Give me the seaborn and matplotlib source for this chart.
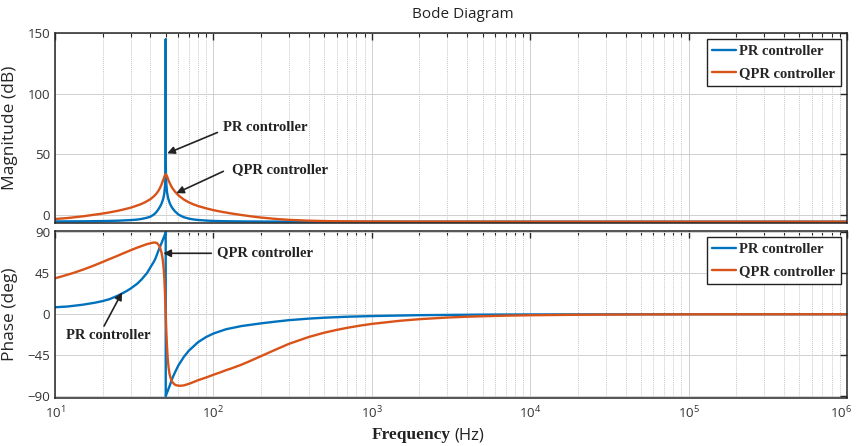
import matplotlib
matplotlib.use("Agg")
import matplotlib.pyplot as plt
import matplotlib.transforms as mtrans
import numpy as np
import pandas as pd
import seaborn as sns
from matplotlib.ticker import LogLocator, NullFormatter, FixedLocator

# ---------------- data ----------------
pr_mag_freq = [10, 15, 20, 25, 30, 33, 35, 38, 40, 42, 43, 44, 45, 46, 47, 48, 48.5, 49,
               49.5, 49.8, 49.95, 50.0, 50.05, 50.2, 50.5, 51, 51.5, 52, 53, 54, 55, 57,
               60, 63, 65, 70, 75, 80, 90, 100, 120, 150, 200, 300, 500, 1e3, 1e4, 1e5, 1e6]
pr_mag_db = [-5.3, -5.2, -5.0, -4.7, -4.2, -3.8, -3.3, -2.3, -1.4, 0.3, 1.5, 3.0, 4.8, 6.8,
             9.2, 12.5, 14.8, 18.0, 24.0, 32.0, 44.0, 145.0, 44.0, 32.0, 24.5, 18.5, 15.5,
             13.0, 9.8, 7.5, 5.8, 3.2, 0.5, -1.0, -1.8, -3.0, -3.7, -4.1, -4.6, -4.9,
             -5.15, -5.3, -5.4, -5.45, -5.5, -5.5, -5.5, -5.5, -5.5]

qpr_mag_freq = [10, 11, 12, 13, 15, 17, 20, 22, 25, 27, 30, 32, 35, 37, 40, 42, 43, 44, 45,
                46, 47, 48, 48.5, 49, 49.5, 50, 50.5, 51, 51.5, 52, 53, 54, 55, 57, 60, 65,
                70, 75, 80, 90, 100, 110, 125, 150, 175, 200, 250, 300, 400, 500, 700,
                1e3, 2e3, 1e4, 1e5, 1e6]
qpr_mag_db = [-3.3, -2.9, -2.5, -2.0, -1.1, -0.1, 1.2, 2.1, 3.5, 4.5, 6.0, 7.2, 9.0, 10.5,
              13.0, 15.3, 16.6, 18.2, 20.0, 22.3, 25.0, 28.2, 29.8, 31.5, 33.0, 33.6, 33.0,
              31.7, 30.3, 28.8, 26.3, 24.2, 22.3, 19.5, 16.3, 12.8, 10.4, 8.7, 7.4, 5.5,
              4.0, 2.9, 1.6, 0.0, -1.2, -2.1, -3.3, -4.0, -4.7, -5.0, -5.25, -5.35, -5.45,
              -5.5, -5.5, -5.5]

pr_ph_freq = [10, 12, 15, 18, 20, 22, 25, 28, 30, 33, 35, 38, 40, 42, 43, 44, 45, 46, 47,
              48, 49, 49.8, 49.99, 50.01, 50.2, 51, 52, 53, 55, 57, 60, 65, 70, 80, 90,
              100, 120, 150, 200, 250, 300, 400, 500, 700, 1e3, 2e3, 5e3, 1e4, 1e5, 1e6]
pr_ph_deg = [7.7, 8.5, 10.5, 12.8, 14.5, 16.5, 20.5, 25.0, 28.2, 33.5, 37.8, 45.0, 51.5,
             57.5, 61.0, 65.5, 70.0, 74.0, 78.0, 82.0, 86.0, 89.2, 90.0, -90.0, -89.2,
             -86.0, -82.2, -78.5, -70.5, -64.5, -56.5, -47.0, -40.0, -30.7, -25.0, -21.2,
             -16.5, -13.0, -10.0, -8.0, -6.5, -4.8, -3.8, -2.7, -2.0, -1.0, -0.4, -0.2,
             0.0, 0.0]

qpr_ph_freq = [10, 11, 12, 13, 15, 17, 20, 22, 25, 27, 30, 32, 35, 37, 38, 40, 41, 42, 43,
               44, 45, 46, 47, 47.5, 48, 48.5, 49, 49.5, 50, 50.5, 51, 51.5, 52, 52.5, 53,
               54, 55, 56, 57, 58, 60, 62, 65, 70, 75, 80, 90, 100, 110, 120, 130, 150,
               170, 200, 250, 300, 400, 500, 600, 700, 850, 1e3, 1.5e3, 2e3, 3e3, 4e3,
               5e3, 7e3, 1e4, 2e4, 5e4, 1e5, 1e6]
qpr_ph_deg = [39.5, 41.5, 43.5, 45.3, 49.0, 52.5, 57.5, 60.5, 64.5, 67.0, 70.3, 72.3, 74.8,
              76.3, 77.0, 78.0, 78.5, 78.8, 78.8, 78.2, 76.5, 73.5, 68.0, 64.0, 58.5, 50.5,
              40.0, 22.0, 0.0, -21.0, -37.0, -49.0, -57.0, -62.5, -66.5, -71.5, -74.3,
              -76.0, -77.2, -77.9, -78.5, -78.6, -78.2, -76.5, -74.5, -72.5, -69.5, -66.5,
              -64.0, -61.5, -59.5, -55.5, -51.5, -46.0, -38.5, -32.5, -25.0, -20.3, -17.2,
              -14.9, -12.4, -10.6, -7.2, -5.4, -3.6, -2.7, -2.2, -1.55, -1.1, -0.55, -0.22,
              -0.11, 0.0]

series_names = ["PR controller", "QPR controller"]
mag_yticks = [0, 50, 100, 150]
ph_yticks = [-90, -45, 0, 45, 90]
freq_ticks = [1e1, 1e2, 1e3, 1e4, 1e5, 1e6]

# ---------------- styling ----------------
sns.set_style("white")
plt.rcParams["font.family"] = ["Open Sans", "DejaVu Sans"]
BLUE = "#0072BD"
ORANGE = "#D95319"
SERIF_B = dict(family="Liberation Serif", weight="bold")

fig = plt.figure(figsize=(8.56, 4.46), dpi=100)
W, H = 856.0, 446.0
ax1 = fig.add_axes([55 / W, 1 - 223 / H, 792 / W, 190 / H])
ax2 = fig.add_axes([55 / W, 1 - 397.5 / H, 792 / W, 166.5 / H])

df_pm = pd.DataFrame({"f": pr_mag_freq, "v": pr_mag_db})
df_qm = pd.DataFrame({"f": qpr_mag_freq, "v": qpr_mag_db})
df_pp = pd.DataFrame({"f": pr_ph_freq, "v": pr_ph_deg})
df_qp = pd.DataFrame({"f": qpr_ph_freq, "v": qpr_ph_deg})

for ax, dp, dq in [(ax1, df_pm, df_qm), (ax2, df_pp, df_qp)]:
    sns.lineplot(data=dp, x="f", y="v", ax=ax, color=BLUE, lw=1.7, sort=False,
                 estimator=None, label=series_names[0])
    sns.lineplot(data=dq, x="f", y="v", ax=ax, color=ORANGE, lw=1.7, sort=False,
                 estimator=None, label=series_names[1])
    ax.set_xscale("log")
    ax.set_xlim(10, 1e6)
    ax.xaxis.set_major_locator(FixedLocator(freq_ticks))
    ax.xaxis.set_minor_locator(LogLocator(base=10, subs=np.arange(2, 10), numticks=100))
    ax.xaxis.set_minor_formatter(NullFormatter())
    ax.grid(which="major", color="#d0d0d0", lw=0.7, ls="-")
    ax.grid(which="minor", axis="x", color="#c8c8c8", lw=0.7, ls=(0, (1, 1)))
    ax.tick_params(which="both", direction="in", top=True, right=True, colors="#262626",
                   labelsize=9.5, labelcolor="#333333")
    ax.tick_params(which="major", length=5, width=1.0)
    ax.tick_params(which="minor", length=3, width=0.8)
    for s in ax.spines.values():
        s.set_color("#262626")
        s.set_linewidth(1.1)
    ax.set_xlabel("")
    ax.legend(loc="upper right", prop=dict(family="Liberation Serif", weight="bold", size=10.5),
              frameon=True, fancybox=False, edgecolor="#222222", framealpha=1,
              handlelength=1.6, handletextpad=0.25, borderaxespad=0.4, borderpad=0.4,
              labelspacing=0.6)
    ax.legend_.get_frame().set_linewidth(1.0)

ax1.set_ylim(-6.6, 150)
ax1.yaxis.set_major_locator(FixedLocator(mag_yticks))
ax1.tick_params(axis="x", labelbottom=False)
ax1.set_ylabel("Magnitude (dB)", fontsize=12.5, color="#262626")
ax1.yaxis.set_label_coords(-0.047, 0.5)

ax2.set_ylim(-91.5, 91.5)
ax2.yaxis.set_major_locator(FixedLocator(ph_yticks))
ax2.set_ylabel("Phase (deg)", fontsize=12.5, color="#262626")
ax2.yaxis.set_label_coords(-0.047, 0.5)
ax2.tick_params(axis="x", pad=5)

# annotations
arrow = dict(arrowstyle="-|>", color="#222222", lw=1.2, mutation_scale=11, shrinkA=0, shrinkB=0)
ax1.text(115.6, 72, "PR controller", ha="left", va="center", fontsize=10.5, **SERIF_B, color="#222222")
ax1.annotate("", xy=(51.1, 50.8), xytext=(106, 68), arrowprops=arrow)
ax1.text(132, 37.7, "QPR controller", ha="left", va="center", fontsize=10.5, **SERIF_B, color="#222222")
ax1.annotate("", xy=(58.3, 18), xytext=(115.6, 36), arrowprops=arrow)

ax2.text(106, 68, "QPR controller", ha="left", va="center", fontsize=10.5, **SERIF_B, color="#222222")
ax2.annotate("", xy=(48.3, 67), xytext=(97, 67), arrowprops=arrow)
ax2.text(11.7, -23, "PR controller", ha="left", va="center", fontsize=10.5, **SERIF_B, color="#222222")
ax2.annotate("", xy=(26.5, 24), xytext=(20.4, -13), arrowprops=arrow)

# title and x label
fig.text(463 / W, 1 - 14 / H, "Bode Diagram", ha="center", va="center", fontsize=11, color="#222222")
fig.text(451 / W, 1 - 435 / H, "Frequency", ha="right", va="center", fontsize=12.5,
         color="#222222", **SERIF_B)
fig.text(454 / W, 1 - 435 / H, "(Hz)", ha="left", va="center", fontsize=12, color="#222222")

# nudge the last frequency label so it stays inside the canvas
fig.canvas.draw()
last = ax2.get_xticklabels()[-1]
last.set_transform(last.get_transform() + mtrans.ScaledTranslation(-4 / 72, 0, fig.dpi_scale_trans))

fig.savefig("out.png", dpi=100)
